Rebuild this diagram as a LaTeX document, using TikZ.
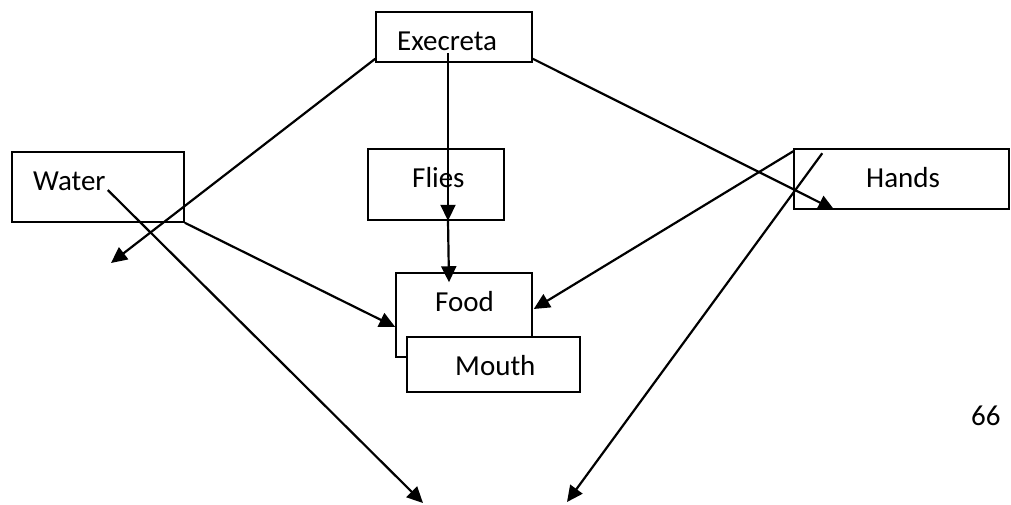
\documentclass[tikz,border=0pt]{standalone}
\usepackage{fontspec}
\setmainfont{Carlito}
\usetikzlibrary{arrows.meta,calc}
\begin{document}
\begin{tikzpicture}[x=1pt,y=-1pt,
  box/.style 2 args={draw,fill=white,line width=1.5pt,inner sep=0pt,minimum width=#1,minimum height=#2},
  lbl/.style={anchor=base west,inner sep=0pt,font=\fontsize{29}{33}\selectfont},
  arr/.style={line width=2.2pt,-{Triangle[length=16pt,width=15pt]}}]
\fill[white] (0,0) rectangle (1011,504);
\useasboundingbox (0,0) rectangle (1011,504);
% boxes
\node[box={156pt}{50pt}] (exec) at (454,37) {};
\node[box={136pt}{71pt}] (flies) at (436,184.5) {};
\node[box={172pt}{70pt}] (water) at (98,187) {};
\node[box={215pt}{60pt}] (hands) at (901.5,179) {};
\node[box={136pt}{84pt}] (food) at (464,315) {};
\node[box={173pt}{55pt}] (mouth) at (493.5,364.5) {};
% labels
\node[lbl] (execT) at (397,50) {Execreta};
\node[lbl] (fliesT) at (412,187) {Flies};
\node[lbl] (waterT) at (33,190) {Water};
\node[lbl] (handsT) at (866,187) {Hands};
\node[lbl] (foodT) at (435,311) {Food};
\node[lbl] (mouthT) at (455,375) {Mouth};
\node[lbl] (page) at (971,425) {66};
% free ends
\coordinate (endL) at (111,263);
\coordinate (endB1) at (423,503);
\coordinate (endB2) at (567,502);
% connectors
\draw[arr] ($(exec.south west)+(0,-4)$) -- (endL);
\draw[arr] ($(exec.south)+(-6,-10)$) -- ($(flies.south)+(12,0)$);
\draw[line width=2.2pt] ($(flies.south)+(12,-5)$) -- ($(flies.south)+(12,0)$);
\draw[arr] ($(flies.south)+(12,0)$) -- ($(food.north)+(-15,10)$);
\draw[arr] ($(exec.south east)+(0,-4)$) -- ($(hands.south west)+(41,0)$);
\draw[arr] (water.south east) -- ($(food.west)+(0,12)$);
\draw[arr] ($(waterT.base east)+(2,0)$) -- (endB1);
\draw[arr] ($(hands.north west)+(0,3)$) -- ($(food.east)+(1,-6)$);
\draw[arr] ($(hands.north west)+(29,5)$) -- (endB2);
\end{tikzpicture}
\end{document}
